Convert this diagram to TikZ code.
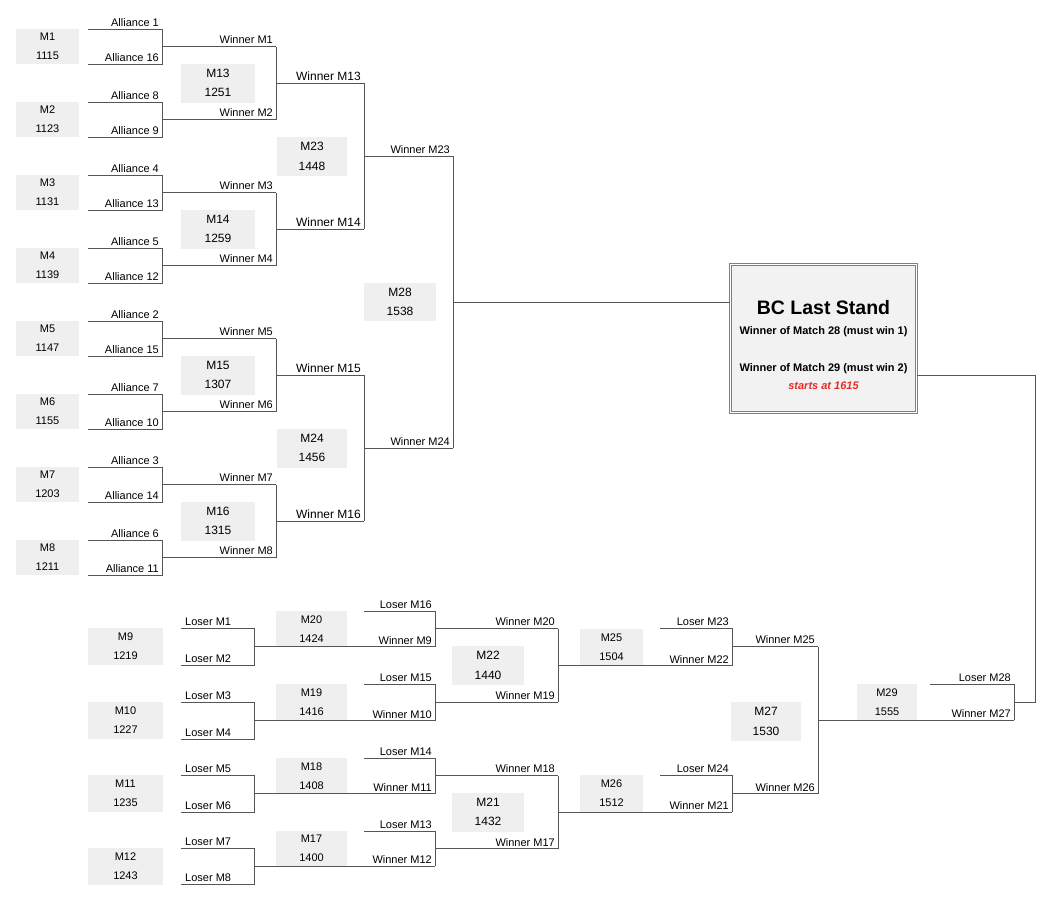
\documentclass[tikz,border=0pt]{standalone}
\usepackage{fontspec}
\setmainfont{Liberation Sans}
\definecolor{boxgray}{HTML}{EFEFEF}
\definecolor{fingray}{HTML}{F2F2F2}
\definecolor{lngray}{HTML}{555555}
\definecolor{fbord}{HTML}{808080}
\definecolor{startred}{RGB}{230,45,40}
\newcommand\vbr[4]{\coordinate (#1t) at (#2,#3); \coordinate (#1b) at (#2,#4); \coordinate (#1o) at (#2,{(#3+#4)/2});}
\newcommand\fbr[5]{\vbr{#1}{#3}{#4}{#5}\coordinate (#1a) at (#2,#4); \coordinate (#1c) at (#2,#5);}
\newcommand\labT[4][lbl]{\node[#1] (#2) at ([xshift=-3pt,yshift=3pt]#3) {#4};}
\newcommand\labB[4][lbl]{\node[#1] (#2) at ([xshift=-3pt,yshift=2.5pt]#3) {#4};}
\newcommand\labW[3]{\node[lblw] (#1) at ([xshift=4pt,yshift=3pt]#2) {#3};}
\begin{document}
\begin{tikzpicture}[x=1pt,y=-1pt,
 ln/.style={draw=lngray, line width=0.8pt},
 mbox/.style={fill=boxgray, inner sep=0pt, align=center, font=\fontsize{11}{19}\selectfont},
 mboxL/.style={mbox, font=\fontsize{12}{19.5}\selectfont},
 lbl/.style={inner sep=0pt, anchor=base east, font=\fontsize{11}{13}\selectfont},
 lblL/.style={lbl, font=\fontsize{12}{14}\selectfont},
 lblw/.style={lbl, anchor=base west},
 fintxt/.style={inner sep=0pt, anchor=base, font=\fontsize{11}{13}\selectfont\bfseries},
]
\useasboundingbox (0,0) rectangle (1060,902);

% ---------- match boxes ----------
\node[mbox, minimum width=63, minimum height=35] (m1) at (47.5,46.5) {M1\\1115};
\node[mbox, minimum width=63, minimum height=35] (m2) at (47.5,119.5) {M2\\1123};
\node[mbox, minimum width=63, minimum height=35] (m3) at (47.5,192.5) {M3\\1131};
\node[mbox, minimum width=63, minimum height=35] (m4) at (47.5,265.5) {M4\\1139};
\node[mbox, minimum width=63, minimum height=35] (m5) at (47.5,338.5) {M5\\1147};
\node[mbox, minimum width=63, minimum height=35] (m6) at (47.5,411.5) {M6\\1155};
\node[mbox, minimum width=63, minimum height=35] (m7) at (47.5,484.5) {M7\\1203};
\node[mbox, minimum width=63, minimum height=35] (m8) at (47.5,557.5) {M8\\1211};

\node[mboxL, minimum width=74, minimum height=39] (m13) at (218,83) {M13\\1251};
\node[mboxL, minimum width=74, minimum height=39] (m14) at (218,229) {M14\\1259};
\node[mboxL, minimum width=74, minimum height=39] (m15) at (218,375) {M15\\1307};
\node[mboxL, minimum width=74, minimum height=39] (m16) at (218,521) {M16\\1315};

\node[mboxL, minimum width=70, minimum height=39] (m23) at (312,156.5) {M23\\1448};
\node[mboxL, minimum width=70, minimum height=39] (m24) at (312,448) {M24\\1456};
\node[mboxL, minimum width=72, minimum height=38] (m28) at (400,302) {M28\\1538};

\node[mbox, minimum width=75, minimum height=37] (m9) at (125.5,646.5) {M9\\1219};
\node[mbox, minimum width=75, minimum height=37] (m10) at (125.5,720.5) {M10\\1227};
\node[mbox, minimum width=75, minimum height=37] (m11) at (125.5,793.5) {M11\\1235};
\node[mbox, minimum width=75, minimum height=37] (m12) at (125.5,866) {M12\\1243};

\node[mbox, minimum width=71, minimum height=35.5] (m20) at (311.5,628.75) {M20\\1424};
\node[mbox, minimum width=71, minimum height=36.5] (m19) at (311.5,702.25) {M19\\1416};
\node[mbox, minimum width=71, minimum height=35.5] (m18) at (311.5,775.75) {M18\\1408};
\node[mbox, minimum width=71, minimum height=35] (m17) at (311.5,848.5) {M17\\1400};

\node[mboxL, minimum width=72, minimum height=39] (m22) at (488,665.5) {M22\\1440};
\node[mboxL, minimum width=72, minimum height=39] (m21) at (488,812) {M21\\1432};

\node[mbox, minimum width=63, minimum height=36.5] (m25) at (611.5,647) {M25\\1504};
\node[mbox, minimum width=63, minimum height=36.5] (m26) at (611.5,793.5) {M26\\1512};
\node[mboxL, minimum width=70, minimum height=39] (m27) at (766,721.5) {M27\\1530};
\node[mbox, minimum width=60, minimum height=37] (m29) at (887,702.5) {M29\\1555};

% ---------- final box ----------
\node[fill=fingray, draw=fbord, line width=0.7pt, double=white, double distance=1pt,
      minimum width=186, minimum height=148, inner sep=0pt] (fin) at (823.5,338.5) {};
\node[fintxt, font=\fontsize{19.5}{22}\selectfont\bfseries] (fin1) at (823.5,314) {BC Last Stand};
\node[fintxt] (fin2) at (823.5,334) {Winner of Match 28 (must win 1)};
\node[fintxt] (fin3) at (823.5,371) {Winner of Match 29 (must win 2)};
\node[fintxt, text=startred, font=\fontsize{11}{13}\selectfont\bfseries\itshape] (fin4) at (823.5,389) {starts at 1615};

% ---------- bracket coordinates ----------
\fbr{q1}{88}{162}{29}{64}
\fbr{q2}{88}{162}{102}{137}
\fbr{q3}{88}{162}{175}{210}
\fbr{q4}{88}{162}{248}{283}
\fbr{q5}{88}{162}{321}{356}
\fbr{q6}{88}{162}{394}{429}
\fbr{q7}{88}{162}{467}{502}
\fbr{q8}{88}{162}{540}{575}
\vbr{q13}{276}{46.5}{119.5}
\vbr{q14}{276}{192.5}{265.5}
\vbr{q15}{276}{338.5}{411.5}
\vbr{q16}{276}{484.5}{557.5}
\vbr{q23}{364}{83}{229}
\vbr{q24}{364}{375}{521}
\vbr{q28}{453}{156}{448}

\fbr{q9}{181}{254}{628}{665}
\fbr{q10}{181}{254}{702}{739}
\fbr{q11}{181}{254}{775}{812}
\fbr{q12}{181}{254}{848}{884}
\fbr{q20}{364}{435}{611}{646.5}
\fbr{q19}{364}{435}{684}{720.5}
\fbr{q18}{364}{435}{758}{793.5}
\fbr{q17}{364}{435}{831}{866}
\vbr{q22}{558}{628.75}{702.25}
\vbr{q21}{558}{775.75}{848.5}
\fbr{q25}{660}{732}{628}{665.5}
\fbr{q26}{660}{732}{775}{812.125}
\vbr{q27}{818}{646.75}{793.5625}
\fbr{q29}{930}{1014}{684}{720.15625}
\coordinate (fx) at (1035,375);

% ---------- bracket lines ----------
\foreach \k in {1,...,12} \draw[ln] (q\k a) -- (q\k t) -- (q\k b) -- (q\k c);
\foreach \k in {17,18,19,20,25,26,29} \draw[ln] (q\k a) -- (q\k t) -- (q\k b);
\foreach \k in {13,14,15,16,23,24,28,22,21,27} \draw[ln] (q\k t) -- (q\k b);

\draw[ln] (q1o) -- (q13t);  \draw[ln] (q2o) -- (q13b);
\draw[ln] (q3o) -- (q14t);  \draw[ln] (q4o) -- (q14b);
\draw[ln] (q5o) -- (q15t);  \draw[ln] (q6o) -- (q15b);
\draw[ln] (q7o) -- (q16t);  \draw[ln] (q8o) -- (q16b);
\draw[ln] (q13o) -- (q23t); \draw[ln] (q14o) -- (q23b);
\draw[ln] (q15o) -- (q24t); \draw[ln] (q16o) -- (q24b);
\draw[ln] (q23o) -- (q28t); \draw[ln] (q24o) -- (q28b);
\draw[ln] (q28o) -- (q28o -| fin.west);

\draw[ln] (q9o) -- (q20b);  \draw[ln] (q10o) -- (q19b);
\draw[ln] (q11o) -- (q18b); \draw[ln] (q12o) -- (q17b);
\draw[ln] (q20o) -- (q22t); \draw[ln] (q19o) -- (q22b);
\draw[ln] (q18o) -- (q21t); \draw[ln] (q17o) -- (q21b);
\draw[ln] (q22o) -- (q25b); \draw[ln] (q21o) -- (q26b);
\draw[ln] (q25o) -- (q27t); \draw[ln] (q26o) -- (q27b);
\draw[ln] (q27o) -- (q29b);
\draw[ln] (fin.east |- fx) -- (fx) |- (q29o);

% ---------- labels ----------
\labT{la1}{q1t}{Alliance 1}   \labB{lb1}{q1b}{Alliance 16}
\labT{la2}{q2t}{Alliance 8}   \labB{lb2}{q2b}{Alliance 9}
\labT{la3}{q3t}{Alliance 4}   \labB{lb3}{q3b}{Alliance 13}
\labT{la4}{q4t}{Alliance 5}   \labB{lb4}{q4b}{Alliance 12}
\labT{la5}{q5t}{Alliance 2}   \labB{lb5}{q5b}{Alliance 15}
\labT{la6}{q6t}{Alliance 7}   \labB{lb6}{q6b}{Alliance 10}
\labT{la7}{q7t}{Alliance 3}   \labB{lb7}{q7b}{Alliance 14}
\labT{la8}{q8t}{Alliance 6}   \labB{lb8}{q8b}{Alliance 11}

\labT{la13}{q13t}{Winner M1}  \labT{lb13}{q13b}{Winner M2}
\labT{la14}{q14t}{Winner M3}  \labT{lb14}{q14b}{Winner M4}
\labT{la15}{q15t}{Winner M5}  \labT{lb15}{q15b}{Winner M6}
\labT{la16}{q16t}{Winner M7}  \labT{lb16}{q16b}{Winner M8}
\labT[lblL]{la23}{q23t}{Winner M13} \labT[lblL]{lb23}{q23b}{Winner M14}
\labT[lblL]{la24}{q24t}{Winner M15} \labT[lblL]{lb24}{q24b}{Winner M16}
\labT{la28}{q28t}{Winner M23} \labT{lb28}{q28b}{Winner M24}

\labW{la9}{q9a}{Loser M1}    \labW{lb9}{q9c}{Loser M2}
\labW{la10}{q10a}{Loser M3}  \labW{lb10}{q10c}{Loser M4}
\labW{la11}{q11a}{Loser M5}  \labW{lb11}{q11c}{Loser M6}
\labW{la12}{q12a}{Loser M7}  \labW{lb12}{q12c}{Loser M8}

\labT{la20}{q20t}{Loser M16}  \labB{lb20}{q20b}{Winner M9}
\labT{la19}{q19t}{Loser M15}  \labB{lb19}{q19b}{Winner M10}
\labT{la18}{q18t}{Loser M14}  \labB{lb18}{q18b}{Winner M11}
\labT{la17}{q17t}{Loser M13}  \labB{lb17}{q17b}{Winner M12}
\labT{la22}{q22t}{Winner M20} \labB{lb22}{q22b}{Winner M19}
\labT{la21}{q21t}{Winner M18} \labB{lb21}{q21b}{Winner M17}
\labT{la25}{q25t}{Loser M23}  \labB{lb25}{q25b}{Winner M22}
\labT{la26}{q26t}{Loser M24}  \labB{lb26}{q26b}{Winner M21}
\labT{la27}{q27t}{Winner M25} \labB{lb27}{q27b}{Winner M26}
\labT{la29}{q29t}{Loser M28}  \labB{lb29}{q29b}{Winner M27}
\end{tikzpicture}
\end{document}
